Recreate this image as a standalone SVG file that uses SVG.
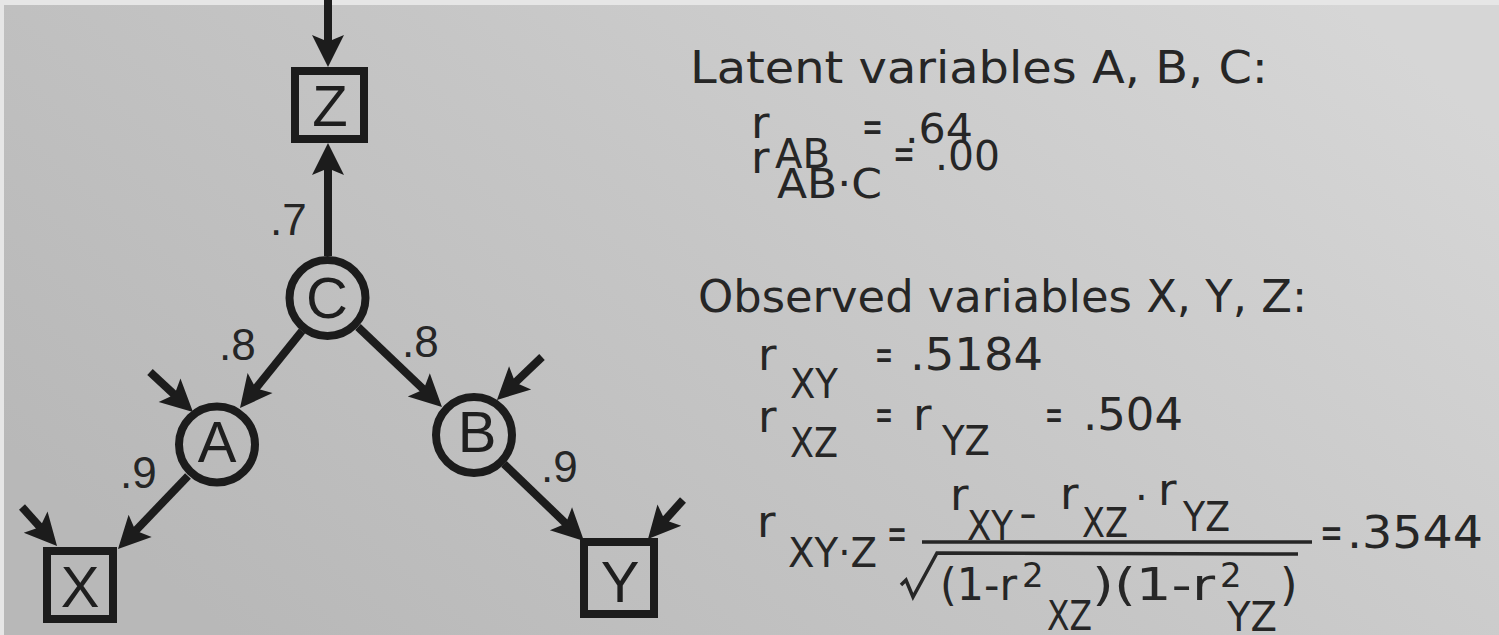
<svg xmlns="http://www.w3.org/2000/svg" width="1499" height="635" viewBox="0 0 1499 635">
<defs>
<linearGradient id="bg" x1="0" y1="0.7" x2="1" y2="0.2">
<stop offset="0" stop-color="#b8b8b8"/>
<stop offset="0.5" stop-color="#c6c6c6"/>
<stop offset="1" stop-color="#d6d6d6"/>
</linearGradient>
<marker id="ah" markerUnits="userSpaceOnUse" viewBox="-34 -18 36 36" refX="-15" refY="0" markerWidth="36" markerHeight="36" orient="auto">
<path d="M0,0 L-32,-16 L-27,-4 L-27,4 L-32,16 Z" fill="#1c1c1c"/>
</marker>
<style>
.edge{stroke:#1c1c1c;stroke-width:8;fill:none;marker-end:url(#ah)}
.box{fill:none;stroke:#1c1c1c;stroke-width:8}
.circ{fill:none;stroke:#1c1c1c;stroke-width:8}
.nl{font-family:"Liberation Sans",Arial,sans-serif;font-size:58px;fill:#1e1e1e;text-anchor:middle}
.el{font-family:"Liberation Sans",Arial,sans-serif;font-size:44px;fill:#262626}
.t{font-family:"DejaVu Sans",Verdana,sans-serif;font-size:45px;fill:#262626}
.s{font-family:"DejaVu Sans",Verdana,sans-serif;font-size:40px;fill:#262626}
.p{font-family:"DejaVu Sans",Verdana,sans-serif;font-size:34px;fill:#262626}
.rule{stroke:#262626;stroke-width:3.5;fill:none}
</style>
</defs>
<rect x="0" y="0" width="1499" height="635" fill="#e6e6e6"/>
<rect x="4" y="5" width="1495" height="630" fill="url(#bg)"/>

<g id="connectors">
<line class="edge" x1="328" y1="0" x2="328" y2="52"/>
<line class="edge" x1="328" y1="256" x2="328" y2="158"/>
<line class="edge" x1="302" y1="331" x2="249.4" y2="396.3"/>
<line class="edge" x1="358" y1="327" x2="431.1" y2="396.6"/>
<line class="edge" x1="188" y1="476" x2="128.4" y2="538.2"/>
<line class="edge" x1="504" y1="464" x2="573.2" y2="530.6"/>
<line class="edge" x1="150" y1="372" x2="182" y2="401.8"/>
<line class="edge" x1="542" y1="357" x2="507.8" y2="389.6"/>
<line class="edge" x1="22" y1="507" x2="47" y2="534.8"/>
<line class="edge" x1="683" y1="500" x2="658" y2="527.8"/>
<text class="el" x="270" y="235">.7</text>
<text class="el" x="219" y="360">.8</text>
<text class="el" x="402" y="357">.8</text>
<text class="el" x="120" y="488">.9</text>
<text class="el" x="541" y="482">.9</text>
</g>

<g id="node-Z">
<rect class="box" x="295" y="71" width="69" height="68"/>
<text class="nl" x="330" y="126">Z</text>
</g>
<g id="node-C">
<circle class="circ" cx="327.5" cy="298" r="38"/>
<text class="nl" x="327" y="318">C</text>
</g>
<g id="node-A">
<circle class="circ" cx="217" cy="444.5" r="38"/>
<text class="nl" x="217" y="462">A</text>
</g>
<g id="node-B">
<circle class="circ" cx="474" cy="435" r="38"/>
<text class="nl" x="477" y="452">B</text>
</g>
<g id="node-X">
<rect class="box" x="47" y="551" width="66" height="68"/>
<text class="nl" x="80" y="607">X</text>
</g>
<g id="node-Y">
<rect class="box" x="584" y="542" width="70" height="72"/>
<text class="nl" x="620" y="602">Y</text>
</g>

<g id="latent">
<text class="t" x="690" y="83" textLength="578" lengthAdjust="spacingAndGlyphs">Latent variables A, B, C:</text>
<text class="t" x="751" y="138">r</text>
<text class="s" x="775" y="168" textLength="55" lengthAdjust="spacingAndGlyphs">AB</text>
<text class="t" x="862" y="142" textLength="21" lengthAdjust="spacingAndGlyphs">=</text>
<text class="s" x="905" y="143" textLength="68" lengthAdjust="spacingAndGlyphs">.64</text>
<text class="t" x="751" y="173">r</text>
<text class="s" x="777" y="198" textLength="105" lengthAdjust="spacingAndGlyphs">AB·C</text>
<text class="t" x="893" y="169" textLength="22" lengthAdjust="spacingAndGlyphs">=</text>
<text class="s" x="935" y="170" textLength="65" lengthAdjust="spacingAndGlyphs">.00</text>
</g>

<g id="observed">
<text class="t" x="698" y="312" textLength="609" lengthAdjust="spacingAndGlyphs">Observed variables X, Y, Z:</text>
<text class="t" x="758" y="370">r</text>
<text class="s" x="790" y="398" textLength="48" lengthAdjust="spacingAndGlyphs">XY</text>
<text class="t" x="875" y="370" textLength="18" lengthAdjust="spacingAndGlyphs">=</text>
<text class="t" x="910" y="370" textLength="133" lengthAdjust="spacingAndGlyphs">.5184</text>
<text class="t" x="758" y="432">r</text>
<text class="s" x="790" y="457" textLength="48" lengthAdjust="spacingAndGlyphs">XZ</text>
<text class="t" x="875" y="430" textLength="18" lengthAdjust="spacingAndGlyphs">=</text>
<text class="t" x="913" y="430">r</text>
<text class="s" x="942" y="455" textLength="48" lengthAdjust="spacingAndGlyphs">YZ</text>
<text class="t" x="1045" y="430" textLength="18" lengthAdjust="spacingAndGlyphs">=</text>
<text class="t" x="1083" y="430" textLength="100" lengthAdjust="spacingAndGlyphs">.504</text>
</g>

<g id="formula">
<text class="t" x="757" y="537">r</text>
<text class="s" x="788" y="567" textLength="89" lengthAdjust="spacingAndGlyphs">XY·Z</text>
<text class="t" x="887" y="549" textLength="20" lengthAdjust="spacingAndGlyphs">=</text>
<line class="rule" x1="922" y1="542" x2="1312" y2="542"/>
<text class="t" x="950" y="510">r</text>
<text class="s" x="967" y="540" textLength="46" lengthAdjust="spacingAndGlyphs">XY</text>
<text class="t" x="1019" y="528" textLength="18" lengthAdjust="spacingAndGlyphs">-</text>
<text class="t" x="1060" y="509">r</text>
<text class="s" x="1082" y="537" textLength="46" lengthAdjust="spacingAndGlyphs">XZ</text>
<text class="s" x="1135" y="512">·</text>
<text class="t" x="1158" y="505">r</text>
<text class="s" x="1183" y="531" textLength="47" lengthAdjust="spacingAndGlyphs">YZ</text>
<path class="rule" d="M901,585 L906,580 L913,597 L937,553 L1298,554"/>
<text class="t" x="940" y="600" textLength="77" lengthAdjust="spacingAndGlyphs">(1-r</text>
<text class="p" x="1022" y="587">2</text>
<text class="s" x="1047" y="630" textLength="45" lengthAdjust="spacingAndGlyphs">XZ</text>
<text class="t" x="1092" y="600" textLength="123" lengthAdjust="spacingAndGlyphs">)(1-r</text>
<text class="p" x="1220" y="587">2</text>
<text class="s" x="1227" y="631" textLength="50" lengthAdjust="spacingAndGlyphs">YZ</text>
<text class="t" x="1280" y="600">)</text>
<text class="t" x="1320" y="548" textLength="23" lengthAdjust="spacingAndGlyphs">=</text>
<text class="t" x="1347" y="548" textLength="136" lengthAdjust="spacingAndGlyphs">.3544</text>
</g>
</svg>
